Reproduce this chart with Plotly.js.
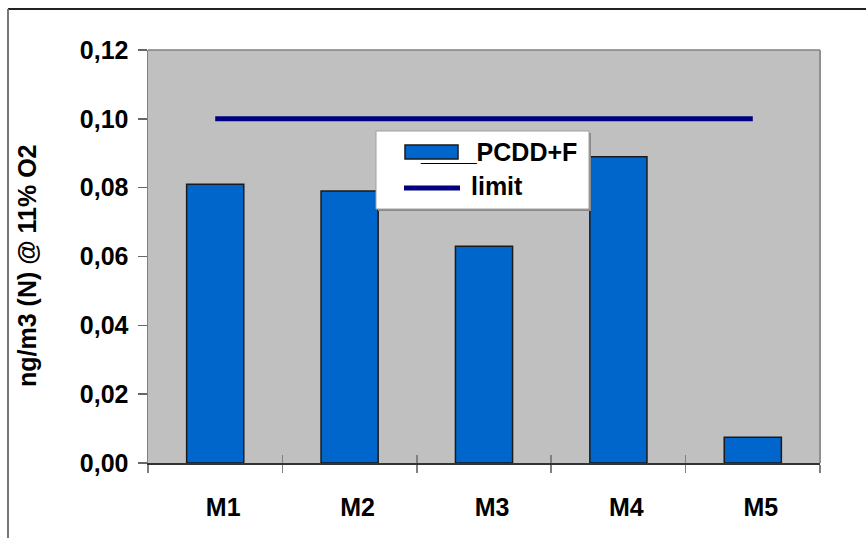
<!DOCTYPE html>
<html>
<head>
<meta charset="utf-8">
<script src="https://cdn.plot.ly/plotly-3.0.1.min.js"></script>
<style>
  html, body { margin: 0; padding: 0; background: #ffffff; }
  #chart { width: 866px; height: 538px; }
</style>
</head>
<body>
<div id="chart"></div>
<script>
// Sampling campaigns and measured dioxin/furan concentrations
const campaigns = ['M1', 'M2', 'M3', 'M4', 'M5'];
const pcddValues = [0.081, 0.079, 0.063, 0.089, 0.0075];
const limitValues = [0.10, 0.10, 0.10, 0.10, 0.10];
const seriesNames = ['____PCDD+F', 'limit'];
const yTitle = 'ng/m3 (N) @ 11% O2';

const FONT = 'Liberation Sans, Arial, sans-serif';
const FS = 25;

// plot area in pixels (used only to place frame and legend shapes)
const W = 866, H = 538;
const L = 148, R = 820, T = 50, B = 463;
const px = x => (x - L) / (R - L);
const py = y => (B - y) / (B - T);

const bars = {
  type: 'bar',
  x: campaigns,
  y: pcddValues,
  name: seriesNames[0],
  marker: { color: '#0066cc', line: { color: '#1a1a1a', width: 1.5 } },
  showlegend: false,
  hoverinfo: 'x+y'
};

const limitLine = {
  type: 'scatter',
  mode: 'lines',
  x: campaigns,
  y: limitValues,
  name: seriesNames[1],
  line: { color: '#000080', width: 5 },
  showlegend: false
};

const shapes = [
  // outer frame (top and left)
  { type: 'line', xref: 'paper', yref: 'paper', x0: px(8), x1: px(W + 5), y0: py(9), y1: py(9),
    line: { color: '#222222', width: 2 } },
  { type: 'line', xref: 'paper', yref: 'paper', x0: px(8), x1: px(8), y0: py(9), y1: py(H + 5),
    line: { color: '#777777', width: 2 } },
  // plot frame top/right
  { type: 'line', xref: 'paper', yref: 'paper', x0: 0, x1: 1, y0: 1, y1: 1,
    line: { color: '#808080', width: 1.5 }, layer: 'below' },
  { type: 'line', xref: 'paper', yref: 'paper', x0: 1, x1: 1, y0: 0, y1: 1,
    line: { color: '#909090', width: 2 }, layer: 'below' },
  // legend box shadow and box
  { type: 'rect', xref: 'paper', yref: 'paper', x0: px(378), x1: px(591), y0: py(133), y1: py(211),
    fillcolor: '#8a8a8a', line: { width: 0 }, layer: 'above' },
  { type: 'rect', xref: 'paper', yref: 'paper', x0: px(376), x1: px(589), y0: py(131), y1: py(209),
    fillcolor: '#ffffff', line: { color: '#a0a0a0', width: 1 }, layer: 'above' },
  // legend symbols
  { type: 'rect', xref: 'paper', yref: 'paper', x0: px(405), x1: px(458), y0: py(145), y1: py(159),
    fillcolor: bars.marker.color, line: { color: '#1a1a1a', width: 1.5 }, layer: 'above' },
  { type: 'line', xref: 'paper', yref: 'paper', x0: px(404), x1: px(460), y0: py(188), y1: py(188),
    line: { color: limitLine.line.color, width: 5 }, layer: 'above' }
];

const annotations = [
  { xref: 'paper', yref: 'paper', x: px(418), y: py(152), xanchor: 'left', yanchor: 'middle',
    text: seriesNames[0], showarrow: false,
    font: { family: FONT, size: FS, color: '#000000', weight: 700 } },
  { xref: 'paper', yref: 'paper', x: px(469), y: py(186), xanchor: 'left', yanchor: 'middle',
    text: seriesNames[1], showarrow: false,
    font: { family: FONT, size: FS, color: '#000000', weight: 700 } },
  // axis title
  { xref: 'paper', yref: 'paper', x: px(27), y: py(266), xanchor: 'center', yanchor: 'middle',
    text: yTitle, textangle: -90, showarrow: false,
    font: { family: FONT, size: FS, color: '#000000', weight: 700 } }
];

const layout = {
  width: W,
  height: H,
  margin: { l: L, r: W - R, t: T, b: H - B, pad: 0 },
  paper_bgcolor: '#ffffff',
  plot_bgcolor: '#c0c0c0',
  separators: ',.',
  bargap: 0.575,
  showlegend: false,
  font: { family: FONT, size: FS, color: '#000000', weight: 700 },
  xaxis: {
    type: 'category',
    range: [-0.5, 4.5],
    showgrid: false,
    zeroline: false,
    showline: true,
    linecolor: '#333333',
    linewidth: 2,
    ticks: 'outside',
    tickson: 'boundaries',
    ticklen: 8,
    tickwidth: 1.5,
    tickcolor: '#808080',
    ticklabelstandoff: 21,
    ticklabelshift: 8,
    tickfont: { family: FONT, size: FS, color: '#000000', weight: 700 }
  },
  xaxis2: {
    overlaying: 'x',
    anchor: 'y',
    range: [-0.5, 4.5],
    tick0: -0.5,
    dtick: 1,
    ticks: 'inside',
    ticklen: 8,
    tickwidth: 1.5,
    tickcolor: '#808080',
    showticklabels: false,
    showgrid: false,
    zeroline: false,
    showline: false
  },
  yaxis: {
    range: [0, 0.12],
    dtick: 0.02,
    tick0: 0,
    tickformat: '.2f',
    showgrid: false,
    zeroline: false,
    showline: true,
    linecolor: '#808080',
    linewidth: 1.5,
    ticks: 'outside',
    ticklen: 9,
    tickwidth: 1.5,
    tickcolor: '#666666',
    ticklabelstandoff: 4,
    tickfont: { family: FONT, size: FS, color: '#000000', weight: 700 }
  },
  shapes: shapes,
  annotations: annotations
};

// invisible trace so the overlay axis draws its inside ticks
const tickHolder = {
  type: 'scatter', mode: 'none', x: [], y: [], xaxis: 'x2', yaxis: 'y',
  showlegend: false, hoverinfo: 'skip'
};

Plotly.newPlot('chart', [bars, limitLine, tickHolder], layout, { displayModeBar: false, staticPlot: true });
</script>
</body>
</html>
